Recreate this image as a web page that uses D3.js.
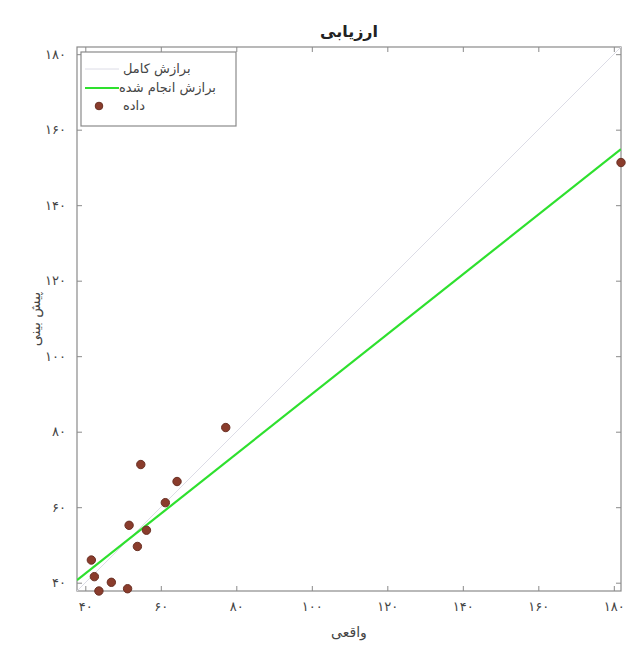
<!DOCTYPE html>
<html>
<head>
<meta charset="utf-8">
<script src="https://cdn.jsdelivr.net/npm/d3@7"></script>
<style>
  body { margin: 0; background: #fff; }
  text { font-family: "DejaVu Sans", "Noto Sans", sans-serif; }
</style>
</head>
<body>
<div id="chart"></div>
<script>
'use strict';

const actual    = [41.6, 42.4, 43.6, 46.9, 51.2, 51.6, 53.8, 56.2, 54.7, 61.2, 64.3, 77.2, 181.9];
const predicted = [46.0, 41.6, 37.8, 40.1, 38.4, 55.2, 49.6, 53.9, 71.3, 61.2, 66.8, 81.1, 151.3];
const ticks = [40, 60, 80, 100, 120, 140, 160, 180];
const legendLabels = ['برازش کامل', 'برازش انجام شده', 'داده'];
const titleText = 'ارزیابی';
const xLabel = 'واقعی';
const yLabel = 'پیش بینی';

const faDigits = '۰۱۲۳۴۵۶۷۸۹';
function fa(n){
    return String(n).replace(/[0-9]/g, function(c){ return faDigits[+c]; });
}

var width = 629, height = 648;
var margin = {top: 47, right: 8, bottom: 57, left: 77};
var w = width - margin.left - margin.right,
    h = height - margin.top - margin.bottom;

// limits are min / max of all values, same on both axes
var lo = d3.min(actual.concat(predicted)),
    hi = d3.max(actual.concat(predicted));

var x = d3.scaleLinear().domain([lo, hi]).range([0, w]);
var y = d3.scaleLinear().domain([lo, hi]).range([h, 0]);

// least squares fit of predicted on actual
var mx = d3.mean(actual), my = d3.mean(predicted);
var sxy = d3.sum(actual, function(d, i){ return (d - mx) * (predicted[i] - my); });
var sxx = d3.sum(actual, function(d){ return (d - mx) * (d - mx); });
var slope = sxy / sxx, icpt = my - slope * mx;

var svg = d3.select('#chart').append('svg')
    .attr('width', width)
    .attr('height', height);

var g = svg.append('g')
    .attr('transform', 'translate(' + margin.left + ',' + margin.top + ')');

g.append('clipPath').attr('id', 'clip')
  .append('rect').attr('width', w).attr('height', h);

var axisColor = '#8a8a8a';

// axes, MATLAB style: ticks inside, on all four sides
g.append('g')
    .attr('transform', 'translate(0,' + h + ')')
    .call(d3.axisBottom(x).tickValues(ticks).tickSizeInner(-5).tickSizeOuter(0).tickPadding(11).tickFormat(fa));
g.append('g')
    .call(d3.axisLeft(y).tickValues(ticks).tickSizeInner(-5).tickSizeOuter(0).tickPadding(11).tickFormat(fa));
g.append('g')
    .call(d3.axisTop(x).tickValues(ticks).tickSizeInner(-5).tickSizeOuter(0).tickFormat(''));
g.append('g')
    .attr('transform', 'translate(' + w + ',0)')
    .call(d3.axisRight(y).tickValues(ticks).tickSizeInner(-5).tickSizeOuter(0).tickFormat(''));

g.selectAll('.domain').remove();
g.selectAll('.tick line').attr('stroke', axisColor);
g.selectAll('.tick text').attr('fill', '#444').style('font-size', '13px');

g.append('rect')
    .attr('width', w).attr('height', h)
    .attr('fill', 'none')
    .attr('stroke', axisColor)
    .attr('stroke-width', 1.2);

var plot = g.append('g').attr('clip-path', 'url(#clip)');

// perfect fit y = x
plot.append('line')
    .attr('x1', x(lo)).attr('y1', y(lo))
    .attr('x2', x(hi)).attr('y2', y(hi))
    .attr('stroke', '#dcdce6')
    .attr('stroke-width', 1);

// fitted line
plot.append('line')
    .attr('x1', x(lo)).attr('y1', y(icpt + slope * lo))
    .attr('x2', x(hi)).attr('y2', y(icpt + slope * hi))
    .attr('stroke', '#2ee02e')
    .attr('stroke-width', 2.2);

// data points
g.selectAll('circle.pt')
    .data(actual)
    .enter()
      .append('circle')
        .attr('class', 'pt')
        .attr('cx', function(d){ return x(d); })
        .attr('cy', function(d, i){ return y(predicted[i]); })
        .attr('r', 4.2)
        .attr('fill', '#8a3c2c')
        .attr('stroke', '#6a3024')
        .attr('stroke-width', 1);

// legend
var lg = svg.append('g').attr('transform', 'translate(81,52)');
lg.append('rect')
    .attr('width', 155).attr('height', 74)
    .attr('fill', '#fff')
    .attr('stroke', axisColor)
    .attr('stroke-width', 1.2);

var rowY = [17, 36, 54];
lg.append('line')
    .attr('x1', 4).attr('x2', 38).attr('y1', rowY[0]).attr('y2', rowY[0])
    .attr('stroke', '#dcdce6').attr('stroke-width', 1);
lg.append('line')
    .attr('x1', 4).attr('x2', 38).attr('y1', rowY[1]).attr('y2', rowY[1])
    .attr('stroke', '#2ee02e').attr('stroke-width', 2.2);
lg.append('circle')
    .attr('cx', 18).attr('cy', rowY[2]).attr('r', 3.8)
    .attr('fill', '#8a3c2c').attr('stroke', '#6a3024');

lg.selectAll('text.lbl')
    .data(legendLabels)
    .enter()
      .append('text')
        .attr('class', 'lbl')
        .attr('x', function(d, i){ return i == 1 ? 38 : 42; })
        .attr('y', function(d, i){ return rowY[i] + 4; })
        .attr('fill', '#444')
        .style('font-size', '13px')
        .text(function(d){ return d; });

// title and axis labels
svg.append('text')
    .attr('x', margin.left + w / 2).attr('y', 37)
    .attr('text-anchor', 'middle')
    .style('font-size', '16px').style('font-weight', 'bold')
    .attr('fill', '#222')
    .text(titleText);

svg.append('text')
    .attr('x', margin.left + w / 2).attr('y', 637)
    .attr('text-anchor', 'middle')
    .style('font-size', '14px')
    .attr('fill', '#444')
    .text(xLabel);

svg.append('text')
    .attr('transform', 'translate(40,' + (margin.top + h / 2) + ') rotate(-90)')
    .attr('text-anchor', 'middle')
    .style('font-size', '14px')
    .attr('fill', '#444')
    .text(yLabel);
</script>
</body>
</html>
